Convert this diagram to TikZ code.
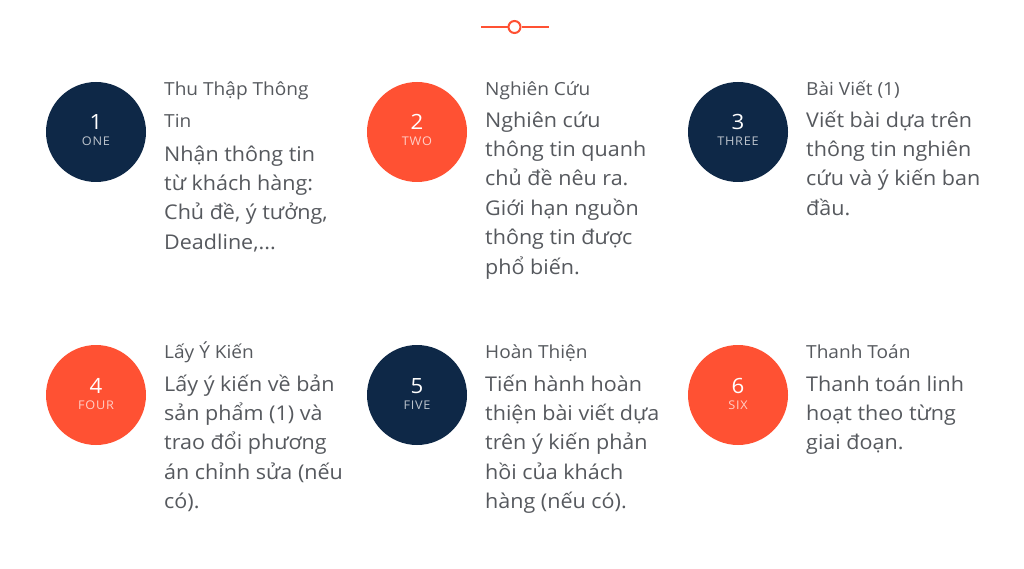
\documentclass[tikz,border=0pt]{standalone}
\usepackage{fontspec}
\setmainfont{Open Sans}[FakeStretch=1.06]
\definecolor{navy}{HTML}{0E2847}
\definecolor{accent}{HTML}{FF5133}
\definecolor{txt}{HTML}{56595E}
\begin{document}
\begin{tikzpicture}[x=1pt,y=-1pt,
  badge/.style={circle,minimum size=100pt,inner sep=0pt},
  num/.style={text=white,inner sep=0pt,anchor=base,font=\fontsize{21}{21}\selectfont},
  lab/.style={text=white,text opacity=0.72,inner sep=0pt,anchor=base,font=\fontsize{12}{12}\selectfont\addfontfeatures{LetterSpace=6}},
  ttl/.style={text=txt,inner sep=0pt,anchor=base west,align=left,font=\fontsize{18}{32}\selectfont},
  bdy/.style={text=txt,inner sep=0pt,anchor=base west,align=left,font=\fontsize{20.3}{29.4}\selectfont}]
\useasboundingbox[fill=white] (0,0) rectangle (1024,569);
% ornament
\coordinate (oL) at (481,27);
\coordinate (oR) at (549,27);
\node[circle,draw=accent,line width=2pt,fill=white,minimum size=12pt,inner sep=0pt] (orn) at (514.5,27) {};
\draw[accent,line width=2pt] (oL) -- (orn.west);
\draw[accent,line width=2pt] (orn.east) -- (oR);
% badges
\foreach \i/\x/\y/\c/\n/\w in {1/96/132/navy/1/ONE,2/417/132/accent/2/TWO,3/738/132/navy/3/THREE,4/96/395/accent/4/FOUR,5/417/395/navy/5/FIVE,6/738/395/accent/6/SIX}{
  \node[badge,fill=\c] (c\i) at (\x,\y) {};
  \node[num] (n\i) at (\x,\y-2) {\n};
  \node[lab] (l\i) at (\x,\y+14) {\w};
}
% texts row 1 (base anchor = baseline of last line)
\node[ttl] (t1) at (164,128) {Thu Thập Thông\\Tin};
\node[bdy] (b1) at (164,249.2) {Nhận thông tin\\từ khách hàng:\\Chủ đề, ý tưởng,\\Deadline,...};
\node[ttl] (t2) at (485,96) {Nghiên Cứu};
\node[bdy] (b2) at (485,274) {Nghiên cứu\\thông tin quanh\\chủ đề nêu ra.\\Giới hạn nguồn\\thông tin được\\phổ biến.};
\node[ttl] (t3) at (806,96) {Bài Viết (1)};
\node[bdy] (b3) at (806,215.2) {Viết bài dựa trên\\thông tin nghiên\\cứu và ý kiến ban\\đầu.};
% texts row 2
\node[ttl] (t4) at (164,358) {Lấy Ý Kiến};
\node[bdy] (b4) at (164,508.6) {Lấy ý kiến về bản\\sản phẩm (1) và\\trao đổi phương\\án chỉnh sửa (nếu\\có).};
\node[ttl] (t5) at (485,358) {Hoàn Thiện};
\node[bdy] (b5) at (485,508.6) {Tiến hành hoàn\\thiện bài viết dựa\\trên ý kiến phản\\hồi của khách\\hàng (nếu có).};
\node[ttl] (t6) at (806,358) {Thanh Toán};
\node[bdy] (b6) at (806,449.8) {Thanh toán linh\\hoạt theo từng\\giai đoạn.};
\end{tikzpicture}
\end{document}
